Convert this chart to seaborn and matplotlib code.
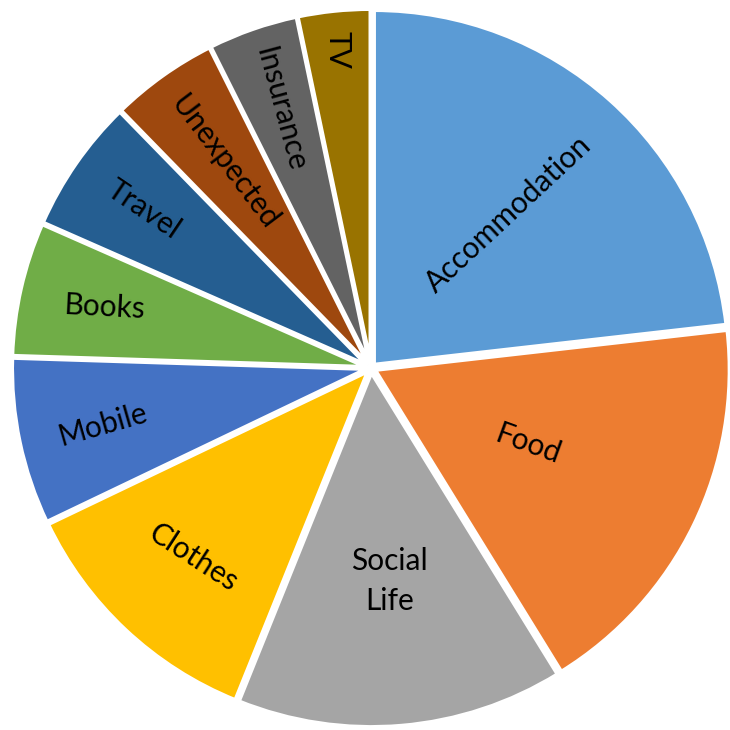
import matplotlib
matplotlib.use("Agg")
import matplotlib.pyplot as plt
import seaborn as sns
import numpy as np

sns.set_theme(style="white")
plt.rcParams['font.family'] = ['Lato', 'DejaVu Sans']

categories = ["Accommodation", "Food", "Social\nLife", "Clothes", "Mobile",
              "Books", "Travel", "Unexpected", "Insurance", "TV"]
shares = [23.2, 18.0, 14.9, 11.8, 7.6, 6.1, 6.1, 4.9, 4.1, 3.3]

colors = ["#5B9BD5", "#ED7D31", "#A5A5A5", "#FFC000", "#4472C4",
          "#70AD47", "#255E91", "#9E480E", "#636363", "#997300"]
label_rot = [43, -20, 0, -33, 16, -3, -34, -53, -75, -90]
label_dist = [0.57, 0.48, 0.59, 0.72, 0.76, 0.76, 0.77, 0.70, 0.76, 0.89]

fig = plt.figure(figsize=(7.3, 7.3), dpi=100)
ax = fig.add_axes([0, 0, 1, 1])
wedges, _ = ax.pie(shares, colors=colors, startangle=90, counterclock=False,
                   explode=[0.012] * len(shares), radius=1.0,
                   wedgeprops=dict(edgecolor="white", linewidth=3))
for w, lab, rot, d in zip(wedges, categories, label_rot, label_dist):
    mid = np.deg2rad((w.theta1 + w.theta2) / 2)
    cx, cy = w.center
    ax.text(cx + d * np.cos(mid), cy + d * np.sin(mid), lab, rotation=rot,
            ha="center", va="center", fontsize=21.5, color="black",
            rotation_mode="anchor", linespacing=1.5)
ax.set_xlim(-1.045, 1.011)
ax.set_ylim(-1.020, 1.037)
ax.set_aspect("equal")
ax.axis("off")
fig.savefig("out.png", dpi=100, facecolor="white")
